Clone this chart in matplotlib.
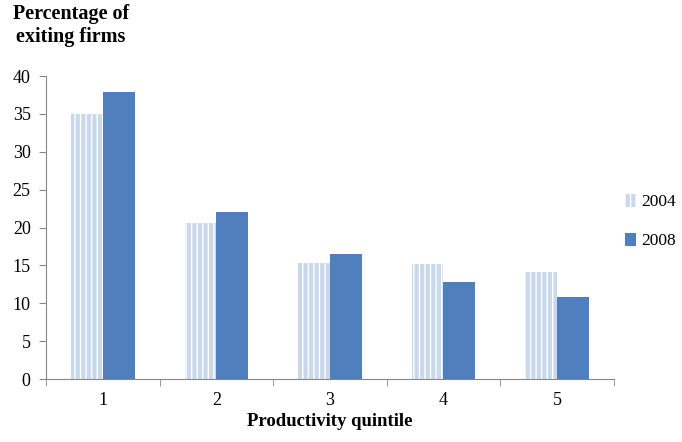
import numpy as np
import matplotlib.pyplot as plt

plt.rcParams['font.family'] = ['Liberation Serif', 'DejaVu Serif']
plt.rcParams['hatch.linewidth'] = 1.0

quintiles = ['1', '2', '3', '4', '5']
pct_2004 = [35.0, 20.6, 15.3, 15.2, 14.1]
pct_2008 = [37.9, 22.0, 16.5, 12.8, 10.8]

fig = plt.figure(figsize=(6.82, 4.42), dpi=100)
ax = fig.add_axes([0.0674, 0.1425, 0.8326, 0.6855])

x = np.arange(len(quintiles))
w = 0.28

plt.rcParams['hatch.color'] = 'white'
ax.bar(x - w / 2, pct_2004, w, color='#c9d8ea', hatch='|||', edgecolor='white',
       linewidth=0, label='2004')
ax.bar(x + w / 2, pct_2008, w, color='#4f7fbd', linewidth=0, label='2008')

ax.set_xlim(-0.5, len(quintiles) - 0.5)
ax.set_ylim(0, 40)
ax.set_yticks(range(0, 41, 5))
ax.set_xticks(x)
ax.set_xticklabels(quintiles)
ax.set_xticks(np.arange(-0.5, len(quintiles)), minor=True)
ax.tick_params(axis='x', which='major', length=0, pad=9, labelsize=13)
ax.tick_params(axis='x', which='minor', length=5, color='#888888')
ax.tick_params(axis='y', length=5, color='#888888', labelsize=13, pad=6)

for s in ['top', 'right']:
    ax.spines[s].set_visible(False)
for s in ['left', 'bottom']:
    ax.spines[s].set_color('#888888')

ax.set_xlabel('Productivity quintile', fontsize=13.5, fontweight='bold', labelpad=3)
fig.text(0.104, 0.99, 'Percentage of\nexiting firms', fontsize=14.5, fontweight='bold',
         va='top', ha='center', multialignment='center', linespacing=1.2)

ax.legend(loc='center left', bbox_to_anchor=(0.993, 0.52), frameon=False, fontsize=12.5,
          handlelength=0.6, handleheight=0.8, handletextpad=0.3, labelspacing=1.3)

fig.savefig('out.png')
